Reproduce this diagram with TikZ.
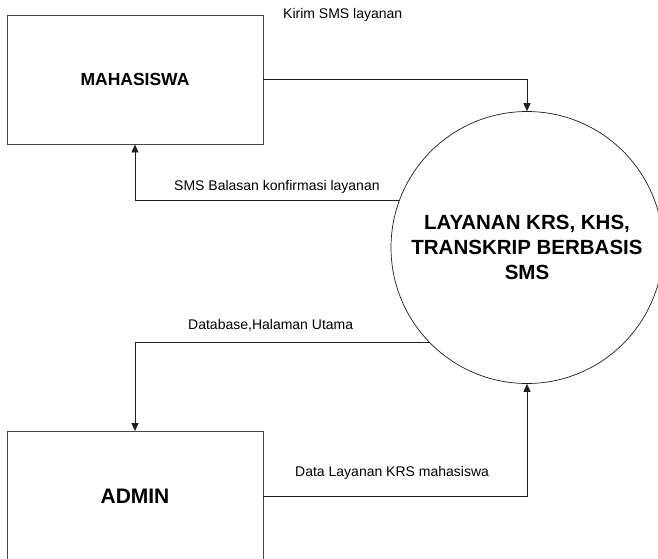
\documentclass[tikz,border=0pt]{standalone}
\usepackage{fontspec}
\setsansfont{Liberation Sans}
\usepackage{tikz}
\usetikzlibrary{positioning,arrows.meta}
\definecolor{dfdLine}{RGB}{30,30,30}
\definecolor{dfdBox}{RGB}{70,70,70}
\tikzset{
    base/.style={font=\sffamily, align=center},
    entity/.style={base, rectangle, draw=dfdBox, line width=0.9pt, fill=white,
                   minimum width=256pt, minimum height=129pt},
    process/.style={base, circle, draw=dfdLine, line width=0.7pt, fill=white,
                    minimum size=272pt, inner sep=0pt},
    flow/.style={-{Triangle[length=8pt,width=7pt]}, line width=0.8pt, color=dfdLine},
    label/.style={font=\sffamily\fontsize{14}{16}\selectfont, anchor=west, inner sep=0pt}
}

\begin{document}
\begin{tikzpicture}[x=1pt,y=-1pt]
  \useasboundingbox (0,0) rectangle (658,558);
  % external entities and process
  \node[entity, font=\sffamily\bfseries\fontsize{17.5}{20}\selectfont] (mhs) at (135,79.5) {MAHASISWA};
  \node[entity, font=\sffamily\bfseries\fontsize{21}{24}\selectfont] (adm) at (135,496) {ADMIN};
  \node[process, font=\sffamily\bfseries\fontsize{20.5}{25}\selectfont] (lay) at (527,247.5)
    {LAYANAN KRS, KHS,\\TRANSKRIP BERBASIS\\SMS};

  % data flows
  \draw[flow] (mhs.east) -| (lay.north);
  \draw[flow] (lay.160.9) -| (mhs.south);
  \draw[flow] (lay.224) -| (adm.north);
  \draw[flow] (adm.east) -| (lay.south);

  % flow labels
  \node[label] (l1) at (283,15) {Kirim SMS layanan};
  \node[label] (l2) at (174,187) {SMS Balasan konfirmasi layanan};
  \node[label] (l3) at (188,325) {Database,Halaman Utama};
  \node[label] (l4) at (295,473) {Data Layanan KRS mahasiswa};
\end{tikzpicture}
\end{document}
